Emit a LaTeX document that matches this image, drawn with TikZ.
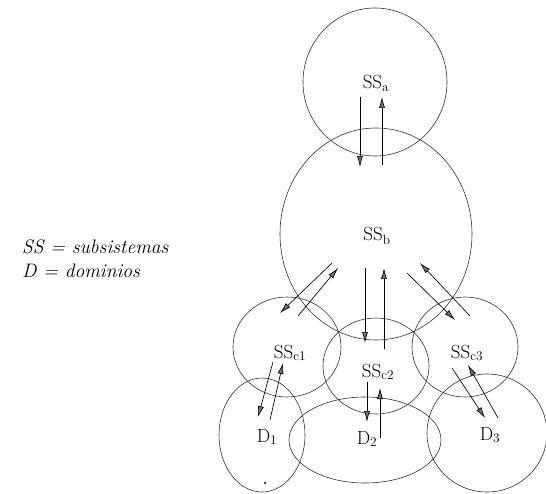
\documentclass[tikz,border=0pt]{standalone}
\usepackage{fontspec}
\usetikzlibrary{arrows.meta}
\begin{document}
\begin{tikzpicture}[x=1pt,y=-1pt,
  ring/.style={draw=black!80,line width=0.6pt},
  flow/.style={draw=black,line width=0.65pt,-{Latex[length=11pt,width=6pt,fill=black!55]}},
  lab/.style={anchor=base,inner sep=0pt,font=\fontsize{19}{22}\selectfont},
  legend/.style={anchor=base west,inner sep=0pt,font=\fontsize{19.5}{22}\selectfont\itshape}]
\useasboundingbox (0,0) rectangle (546,494);
% subsystem and domain outlines
\draw[ring] (375,82) ellipse [x radius=72,y radius=74];
\draw[ring] (376,234) ellipse [x radius=96,y radius=106];
\draw[ring] (287,347) ellipse [x radius=54,y radius=50];
\draw[ring] (376,366) ellipse [x radius=53,y radius=48];
\draw[ring] (465,347) ellipse [x radius=53,y radius=50];
\draw[ring] (262,435) ellipse [x radius=43,y radius=57];
\draw[ring] (365,440) ellipse [x radius=76,y radius=43];
\draw[ring] (487,433) ellipse [x radius=60,y radius=59];
\fill (265,483) circle [radius=1.1];
% labels
\node[lab] (ssa) at (376,89) {SS\textsubscript{a}};
\node[lab] (ssb) at (377,241) {SS\textsubscript{b}};
\node[lab] (ssc1) at (290,358) {SS\textsubscript{c1}};
\node[lab] (ssc2) at (378,377) {SS\textsubscript{c2}};
\node[lab] (ssc3) at (467,358) {SS\textsubscript{c3}};
\node[lab] (d1) at (267,442) {D\textsubscript{1}};
\node[lab] (d2) at (367,444) {D\textsubscript{2}};
\node[lab] (d3) at (490,440) {D\textsubscript{3}};
\node[legend] (leg1) at (22,254) {SS = subsistemas};
\node[legend] (leg2) at (22,278) {D = dominios};
% arrow end points
\coordinate (a1) at (360,97);  \coordinate (a2) at (360,167);
\coordinate (a3) at (382,165); \coordinate (a4) at (382,97);
\coordinate (b1) at (332,263); \coordinate (b2) at (280,313);
\coordinate (b3) at (298,316); \coordinate (b4) at (338,268);
\coordinate (c1) at (365,268); \coordinate (c2) at (365,343);
\coordinate (c3) at (384,349); \coordinate (c4) at (384,268);
\coordinate (e1) at (470,316); \coordinate (e2) at (420,263);
\coordinate (e3) at (407,273); \coordinate (e4) at (455,320);
\coordinate (f1) at (273,362); \coordinate (f2) at (258,417);
\coordinate (f3) at (270,420); \coordinate (f4) at (283,363);
\coordinate (g1) at (367,382); \coordinate (g2) at (367,422);
\coordinate (g3) at (380,438); \coordinate (g4) at (380,388);
\coordinate (h1) at (452,368); \coordinate (h2) at (485,418);
\coordinate (h3) at (498,418); \coordinate (h4) at (468,365);
% arrows
\draw[flow] (a1) -- (a2);
\draw[flow] (a3) -- (a4);
\draw[flow] (b1) -- (b2);
\draw[flow] (b3) -- (b4);
\draw[flow] (c1) -- (c2);
\draw[flow] (c3) -- (c4);
\draw[flow] (e1) -- (e2);
\draw[flow] (e3) -- (e4);
\draw[flow] (f1) -- (f2);
\draw[flow] (f3) -- (f4);
\draw[flow] (g1) -- (g2);
\draw[flow] (g3) -- (g4);
\draw[flow] (h1) -- (h2);
\draw[flow] (h3) -- (h4);
\end{tikzpicture}
\end{document}
